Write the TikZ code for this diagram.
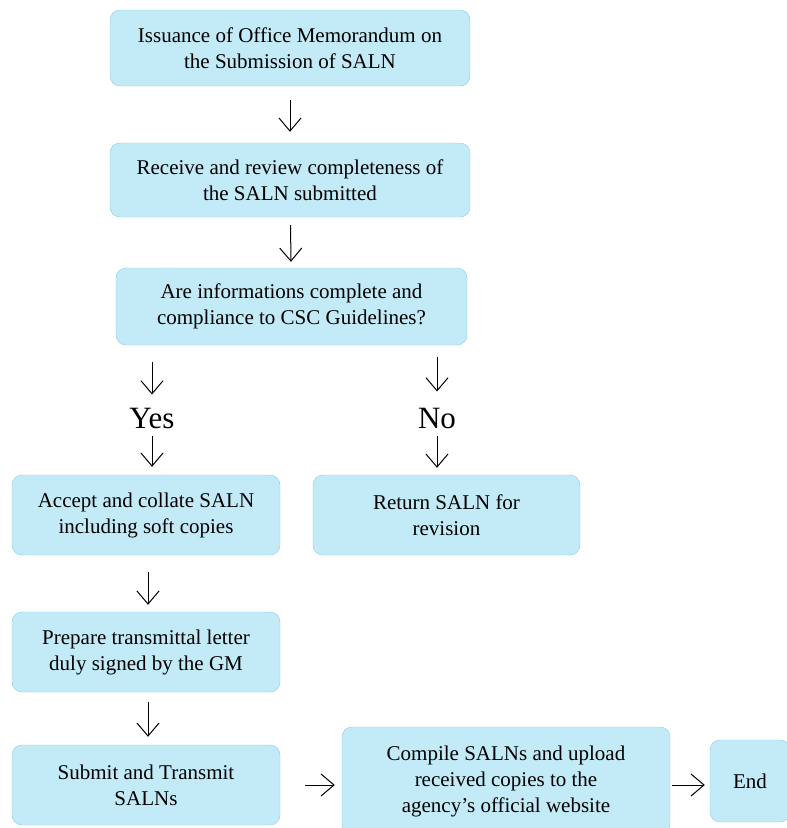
\documentclass[tikz,border=0pt]{standalone}
\usepackage{fontspec}
\setmainfont{Liberation Serif}
\usetikzlibrary{positioning,arrows.meta}

\definecolor{boxfill}{HTML}{C2EAF7}
\definecolor{boxline}{HTML}{8FCBE3}

\tikzset{
  box/.style={draw=boxline,fill=boxfill,rounded corners=10pt,align=center,
    font=\fontsize{21}{26}\selectfont,inner sep=0pt},
  arr/.style={-{Straight Barb[length=13pt,width=22pt]},line width=1pt},
  answer/.style={font=\fontsize{31}{31}\selectfont,inner sep=0pt}
}

\begin{document}
\begin{tikzpicture}[x=1pt,y=-1pt]
\useasboundingbox (0,0) rectangle (787,828);
\clip (0,0) rectangle (787,828);
\node[box,minimum width=360pt,minimum height=76pt] (0) at (290,48) {Issuance of Office Memorandum on\\the Submission of SALN};
\node[box,minimum width=360pt,minimum height=74pt] (1) at (290,180) {Receive and review completeness of\\the SALN submitted};
\node[box,minimum width=351pt,minimum height=77pt] (2) at (291.5,306.5) {Are informations complete and\\compliance to CSC Guidelines?};
\node[answer] (3) at (152,418) {Yes};
\node[answer] (4) at (437,418) {No};
\node[box,minimum width=268pt,minimum height=80pt] (5) at (146,515) {Accept and collate SALN\\including soft copies};
\node[box,minimum width=267pt,minimum height=80pt] (6) at (446.5,515) {Return SALN for\\revision};
\node[box,minimum width=268pt,minimum height=80pt] (7) at (146,652) {Prepare transmittal letter\\duly signed by the GM};
\node[box,minimum width=268pt,minimum height=80pt] (8) at (146,785) {Submit and Transmit\\SALNs};
\node[box,minimum width=328pt,minimum height=108pt] (9) at (506,781) {Compile SALNs and upload\\received copies to the\\agency's official website};
\node[box,minimum width=80pt,minimum height=82pt] (10) at (750,781) {End};
\draw[arr,shorten <=14pt,shorten >=11pt] (0) -- (1);
\draw[arr,shorten <=8pt,shorten >=6pt] (1) -- (2);
\draw[arr,shorten <=17pt,shorten >=13pt] (2.south -| 3) -- (3);
\draw[arr,shorten <=12pt,shorten >=16pt] (2.south -| 4) -- (4);
\draw[arr,shorten <=7pt,shorten >=8pt] (3) -- (5.north -| 3);
\draw[arr,shorten <=7pt,shorten >=7pt] (4) -- (6.north -| 4);
\draw[arr,shorten <=17pt,shorten >=7pt] (5.south -| 148,0) -- (7.north -| 148,0);
\draw[arr,shorten <=10pt,shorten >=8pt] (7.south -| 148,0) -- (8.north -| 148,0);
\draw[arr,shorten <=25pt,shorten >=7pt] (8.east) -- (9.west |- 8.east);
\draw[arr,shorten <=2pt,shorten >=5pt] (9.east |- 8.east) -- (10.west |- 8.east);
\end{tikzpicture}
\end{document}
